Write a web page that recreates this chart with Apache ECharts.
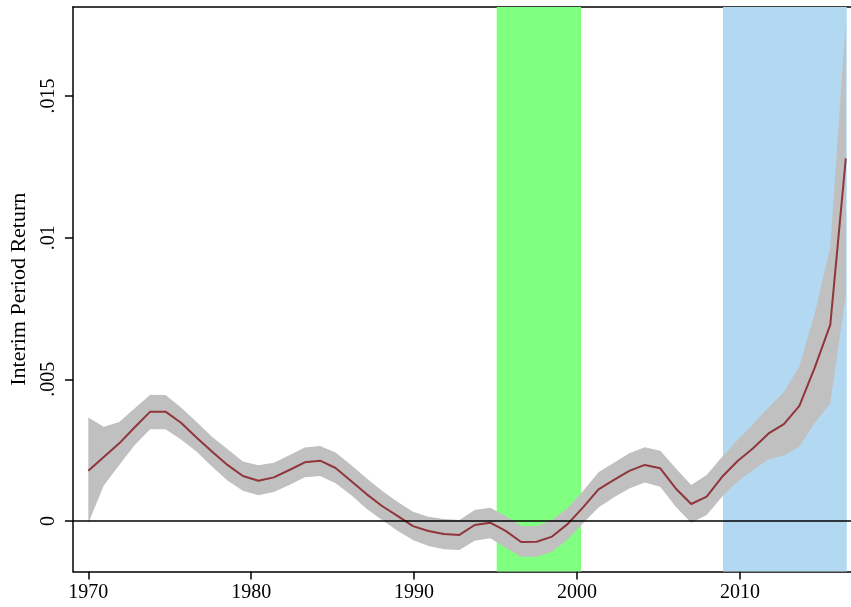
<!DOCTYPE html>
<html><head><meta charset="utf-8">
<script src="https://cdn.jsdelivr.net/npm/echarts@6/dist/echarts.min.js"></script>
<style>html,body{margin:0;padding:0;background:#fff}#c{width:851px;height:607px}</style>
</head><body><div id="c"></div><script>
const years = [1970.00, 1970.95, 1971.90, 1972.85, 1973.80, 1974.74, 1975.69, 1976.64, 1977.59, 1978.54,
  1979.49, 1980.44, 1981.39, 1982.34, 1983.29, 1984.23, 1985.18, 1986.13, 1987.08, 1988.03,
  1988.98, 1989.93, 1990.88, 1991.83, 1992.78, 1993.72, 1994.67, 1995.62, 1996.57, 1997.52,
  1998.47, 1999.42, 2000.37, 2001.32, 2002.27, 2003.21, 2004.16, 2005.11, 2006.06, 2007.01,
  2007.96, 2008.91, 2009.86, 2010.81, 2011.76, 2012.70, 2013.65, 2014.60, 2015.55, 2016.50];
const estimate = [0.00177, 0.00226, 0.00274, 0.00331, 0.00386, 0.00386, 0.00347, 0.00295, 0.00245, 0.00198,
  0.00159, 0.00142, 0.00154, 0.00180, 0.00207, 0.00213, 0.00187, 0.00141, 0.00095, 0.00053,
  0.00018, -0.00018, -0.00035, -0.00046, -0.00049, -0.00014, -0.00006, -0.00035, -0.00074, -0.00073,
  -0.00055, -0.00011, 0.00048, 0.00112, 0.00145, 0.00177, 0.00198, 0.00186, 0.00115, 0.00060,
  0.00086, 0.00156, 0.00212, 0.00257, 0.00309, 0.00342, 0.00406, 0.00542, 0.00693, 0.01280];
const ciUpper = [0.00365, 0.00333, 0.00349, 0.00398, 0.00446, 0.00445, 0.00401, 0.00350, 0.00297, 0.00254,
  0.00210, 0.00197, 0.00206, 0.00232, 0.00259, 0.00265, 0.00242, 0.00198, 0.00151, 0.00107,
  0.00068, 0.00033, 0.00015, 0.00007, 0.00004, 0.00039, 0.00047, 0.00018, -0.00018, -0.00018,
  0.00004, 0.00045, 0.00106, 0.00172, 0.00206, 0.00239, 0.00260, 0.00248, 0.00186, 0.00127,
  0.00162, 0.00227, 0.00286, 0.00342, 0.00401, 0.00455, 0.00547, 0.00733, 0.00968, 0.01768];
const ciLower = [-0.00008, 0.00125, 0.00198, 0.00268, 0.00324, 0.00324, 0.00288, 0.00245, 0.00192, 0.00143,
  0.00107, 0.00091, 0.00102, 0.00127, 0.00154, 0.00159, 0.00133, 0.00092, 0.00043, 0.00004,
  -0.00034, -0.00067, -0.00088, -0.00100, -0.00102, -0.00070, -0.00061, -0.00094, -0.00126, -0.00126,
  -0.00108, -0.00065, -0.00008, 0.00048, 0.00084, 0.00115, 0.00136, 0.00121, 0.00050, -0.00006,
  0.00021, 0.00086, 0.00139, 0.00180, 0.00218, 0.00231, 0.00262, 0.00347, 0.00415, 0.00797];
const xTicks = [1970, 1980, 1990, 2000, 2010];
const yTicks = [0, 0.005, 0.01, 0.015];
const yTickLabels = ['0', '.005', '.01', '.015'];
const greenPeriod = [1995.07, 2000.25];
const bluePeriod = [2008.96, 2016.56];

const FONT = 'Liberation Serif';
const chart = echarts.init(document.getElementById('c'), null, {renderer: 'canvas'});
const bandData = years.map((x, i) => [x, ciLower[i], ciUpper[i]]);
const midData = years.map((x, i) => [x, estimate[i]]);

function renderBand(params, api) {
  if (params.dataIndex !== 0) return null;
  const upper = years.map((x, i) => api.coord([x, ciUpper[i]]));
  const lower = years.map((x, i) => api.coord([x, ciLower[i]])).reverse();
  return {
    type: 'polygon',
    shape: {points: upper.concat(lower)},
    style: {fill: '#c0c0c0', stroke: null}
  };
}

const axisLine = {show: true, onZero: false, lineStyle: {color: '#000', width: 1.5}};

chart.setOption({
  animation: false,
  backgroundColor: '#fff',
  grid: {left: 73, right: 0, top: 7, bottom: 35.5},
  xAxis: [{
    type: 'value', min: 1969.06, max: 2016.82,
    axisLine: axisLine,
    axisTick: {show: true, customValues: xTicks, length: 8, lineStyle: {color: '#000', width: 1.5}},
    axisLabel: {customValues: xTicks, color: '#000', fontFamily: FONT, fontSize: 20, margin: 11,
      formatter: v => String(Math.round(v))},
    splitLine: {show: false}
  }, {
    type: 'value', position: 'top', min: 1969.06, max: 2016.82,
    axisLine: axisLine, axisTick: {show: false}, axisLabel: {show: false}, splitLine: {show: false}
  }],
  yAxis: {
    type: 'value', min: -0.001782, max: 0.018141,
    name: 'Interim Period Return', nameLocation: 'middle', nameGap: 43,
    nameTextStyle: {color: '#000', fontFamily: FONT, fontSize: 22},
    axisLine: axisLine,
    axisTick: {show: true, customValues: yTicks, length: 8, lineStyle: {color: '#000', width: 1.5}},
    axisLabel: {
      customValues: yTicks, rotate: 90, color: '#000', fontFamily: FONT, fontSize: 20, margin: 14,
      formatter: v => { const i = yTicks.findIndex(t => Math.abs(t - v) < 1e-9); return i >= 0 ? yTickLabels[i] : ''; }
    },
    splitLine: {show: false}
  },
  series: [
    {
      type: 'line', data: [], z: 1, silent: true,
      markArea: {
        silent: true,
        data: [
          [{xAxis: greenPeriod[0], itemStyle: {color: '#80ff80', opacity: 1}}, {xAxis: greenPeriod[1]}],
          [{xAxis: bluePeriod[0], itemStyle: {color: '#b3d9f2', opacity: 1}}, {xAxis: bluePeriod[1]}]
        ]
      }
    },
    {
      type: 'line', data: [], z: 2, silent: true,
      markLine: {
        silent: true, symbol: ['none', 'none'], label: {show: false},
        lineStyle: {color: '#000', width: 1.5, type: 'solid'},
        data: [{yAxis: 0}]
      }
    },
    {
      type: 'custom', data: bandData, z: 3, silent: true, clip: true,
      encode: {x: 0, y: [1, 2]},
      renderItem: renderBand
    },
    {
      type: 'line', data: midData, z: 4, symbol: 'none',
      lineStyle: {color: '#90353b', width: 2}, silent: true
    }
  ]
});
</script></body></html>
